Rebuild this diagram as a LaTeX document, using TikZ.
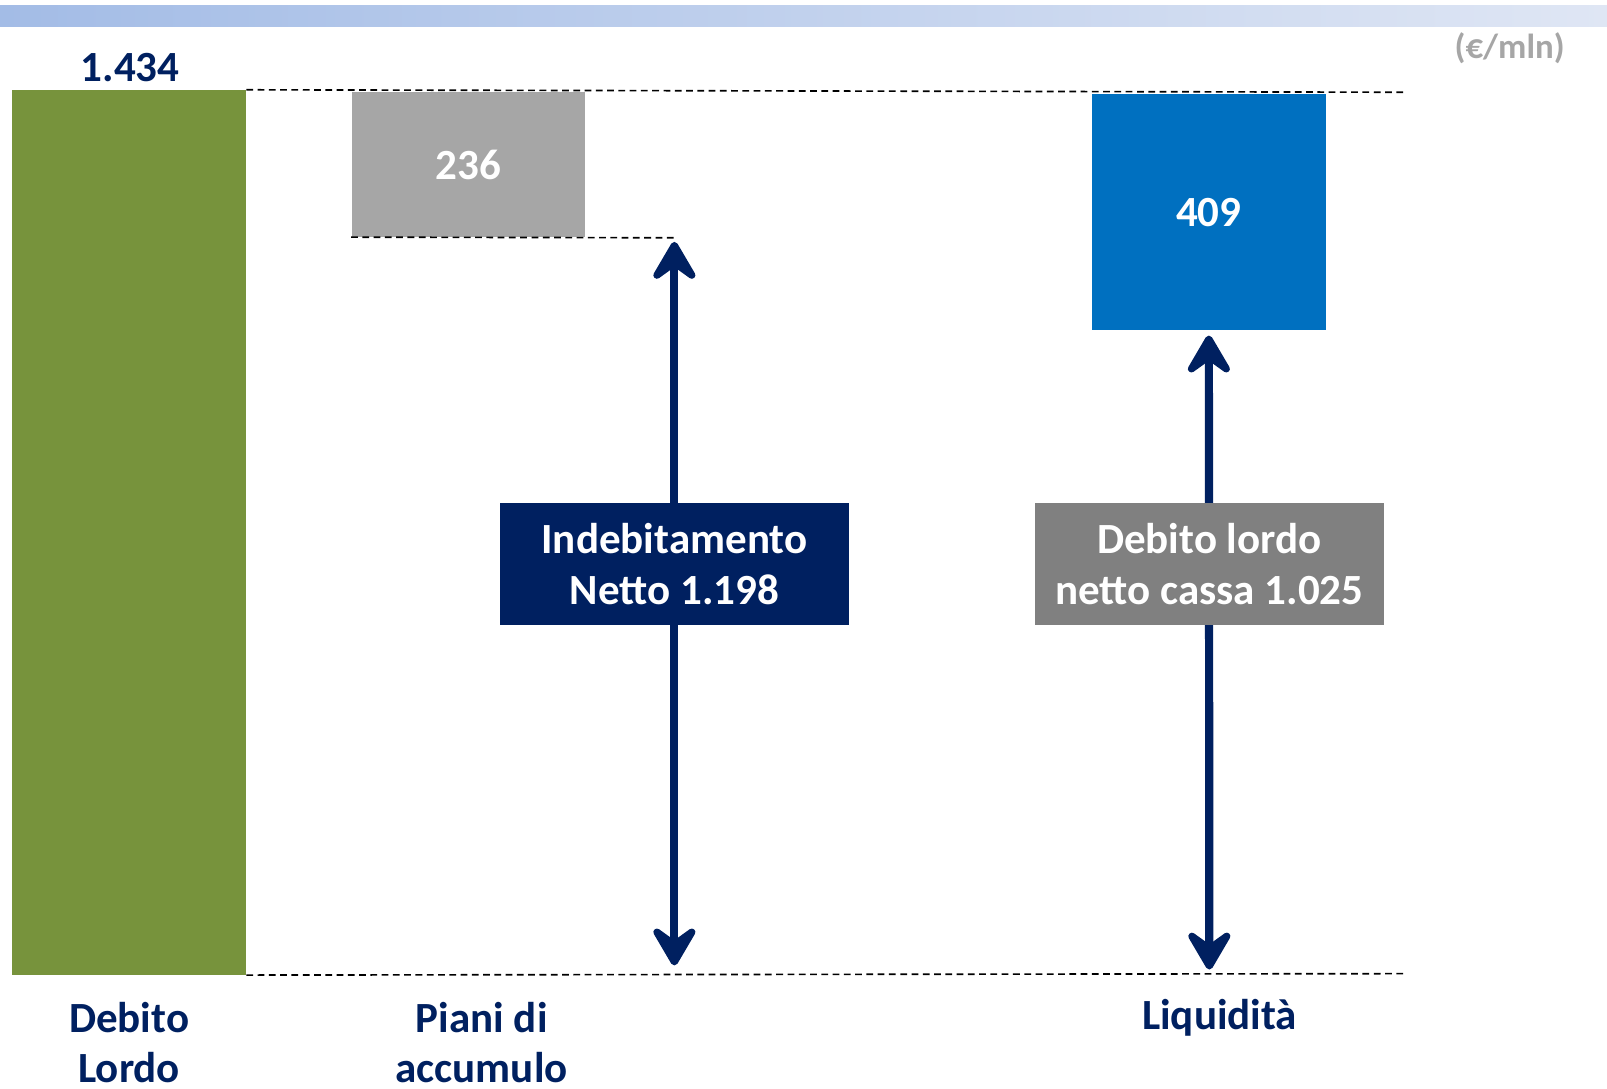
\documentclass[tikz,border=0pt]{standalone}
\usepackage{fontspec}
\setmainfont{Carlito}
\usetikzlibrary{arrows.meta,positioning}
\definecolor{navy}{HTML}{002060}
\definecolor{olive}{HTML}{77933C}
\definecolor{lightgrey}{HTML}{A6A6A6}
\definecolor{darkgrey}{HTML}{808080}
\definecolor{cashblue}{HTML}{0070C0}
\definecolor{barleft}{HTML}{A3BCE6}
\definecolor{barright}{HTML}{DFE6F4}

\begin{document}
\begin{tikzpicture}[x=0.5pt,y=-0.5pt,
    bar/.style={minimum width=114pt,inner sep=0pt,text=white,
        font=\bfseries\fontsize{21}{25}\selectfont},
    tag/.style={minimum width=170pt,minimum height=59.5pt,inner sep=0pt,
        align=center,text=white,font=\bfseries\fontsize{21}{25}\selectfont},
    cat/.style={align=center,text=navy,font=\bfseries\fontsize{21}{24.5}\selectfont},
    guide/.style={dash pattern=on 3.3pt off 2.2pt,line width=0.8pt},
    span/.style={navy,line width=4pt,
        {Stealth[length=24pt,width=28pt,inset=10pt,round]}-{Stealth[length=24pt,width=28pt,inset=10pt,round]}}]
    \useasboundingbox (0,0) rectangle (1568,1062);
    \shade[left color=barleft,right color=barright] (0,5) rectangle (1568,26);

    % bars
    \node[bar,fill=olive,minimum height=431.5pt] (lordo) at (126,519.5) {};
    \node[bar,fill=lightgrey,minimum height=70.5pt] (piani) at (457,160.5) {236};
    \node[bar,fill=cashblue,minimum height=115pt] (liq) at (1179.5,207) {409};

    \node[text=navy,font=\bfseries\fontsize{21}{25}\selectfont] (lordoval) at (127,66) {1.434};
    \node[text=lightgrey,font=\bfseries\fontsize{17}{19}\selectfont] (unit) at (1473,47) {(€/mln)};

    % guide lines
    \coordinate (topend) at (1370,90);
    \coordinate (botend) at (1370,950);
    \coordinate (netup) at (658,232);
    \coordinate (netdown) at (658,942);
    \coordinate (cassadown) at (1180,946);
    \draw[guide] (lordo.north east) -- (topend);
    \draw[guide] (lordo.south east) -- (botend);
    \draw[guide] (piani.south west) -- (netup);

    % arrows
    \draw[span] ([yshift=-2pt]netup) -- (netdown);
    \draw[span] ([yshift=-2.5pt]liq.south) -- (cassadown);

    \node[tag,fill=navy] (netto) at (658,550.5) {Indebitamento\\Netto 1.198};
    \node[tag,fill=darkgrey] (cassa) at (1180,550.5) {Debito lordo\\netto cassa 1.025};

    % categories
    \node[cat] (catlordo) at (126,1017) {Debito\\Lordo};
    \node[cat] (catpiani) at (470,1017) {Piani di\\accumulo};
    \node[cat] (catliq) at (1190,993) {Liquidità};
\end{tikzpicture}
\end{document}
